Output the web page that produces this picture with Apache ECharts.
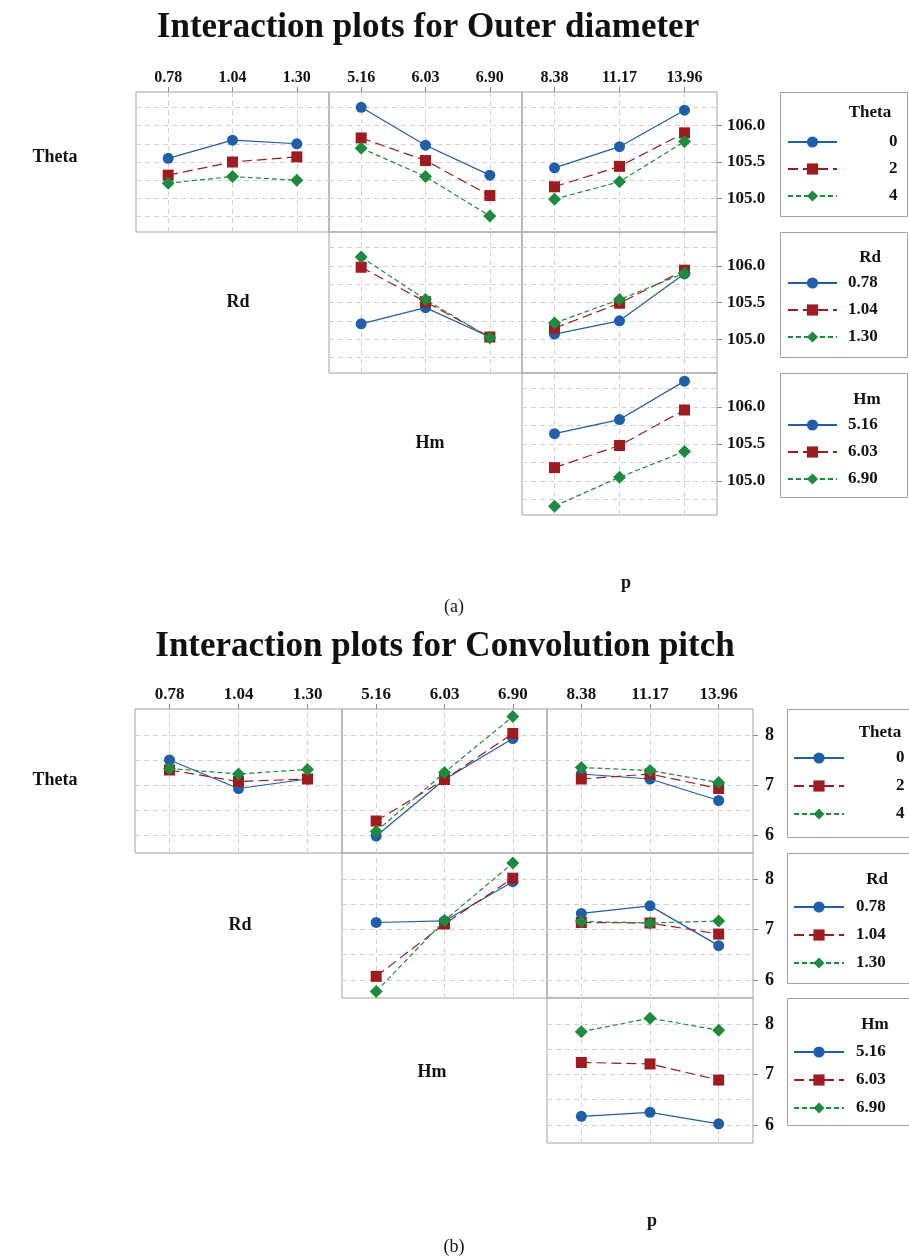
<!DOCTYPE html>
<html><head><meta charset="utf-8">
<script src="https://cdn.jsdelivr.net/npm/echarts@6/dist/echarts.min.js"></script>
<style>html,body{margin:0;padding:0;background:#fff}#c{width:909px;height:1259px}</style>
</head><body><div id="c"></div><script>
// ---- factor levels (tick labels) ----
const thetaLevels = ['0', '2', '4'];
const rdLevels = ['0.78', '1.04', '1.30'];
const hmLevels = ['5.16', '6.03', '6.90'];
const pLevels = ['8.38', '11.17', '13.96'];

// ---- (a) Outer diameter : means (rows = series level, cols = x level) ----
const odThetaVsRd = [[105.55, 105.80, 105.75], [105.32, 105.50, 105.57], [105.21, 105.30, 105.25]];
const odThetaVsHm = [[106.25, 105.73, 105.32], [105.83, 105.52, 105.04], [105.69, 105.30, 104.76]];
const odThetaVsP  = [[105.42, 105.71, 106.21], [105.16, 105.44, 105.90], [104.99, 105.23, 105.78]];
const odRdVsHm    = [[105.21, 105.43, 105.03], [105.98, 105.51, 105.03], [106.12, 105.54, 105.02]];
const odRdVsP     = [[105.07, 105.25, 105.89], [105.15, 105.49, 105.94], [105.22, 105.54, 105.90]];
const odHmVsP     = [[105.64, 105.83, 106.35], [105.18, 105.48, 105.96], [104.66, 105.05, 105.40]];
const odTicks = [105.0, 105.5, 106.0];
const odGridVals = [104.75, 105.0, 105.25, 105.5, 105.75, 106.0, 106.25];

// ---- (b) Convolution pitch ----
const cpThetaVsRd = [[7.50, 6.93, 7.12], [7.30, 7.07, 7.12], [7.33, 7.22, 7.31]];
const cpThetaVsHm = [[5.98, 7.11, 7.93], [6.28, 7.11, 8.03], [6.07, 7.25, 8.37]];
const cpThetaVsP  = [[7.22, 7.12, 6.69], [7.12, 7.22, 6.93], [7.35, 7.29, 7.05]];
const cpRdVsHm    = [[7.14, 7.17, 7.95], [6.07, 7.11, 8.02], [5.77, 7.18, 8.32]];
const cpRdVsP     = [[7.32, 7.47, 6.68], [7.14, 7.13, 6.91], [7.16, 7.13, 7.17]];
const cpHmVsP     = [[6.17, 6.25, 6.02], [7.24, 7.21, 6.89], [7.85, 8.12, 7.88]];
const cpTicks = [6, 7, 8];
const cpGridVals = [6, 6.5, 7, 7.5, 8];

// ---- styling ----
const SERIF = "'Liberation Serif','DejaVu Serif',serif";
const COLORS = ['#1f5ea8', '#9e1b1f', '#1e8a3e'];
const SYMBOLS = ['circle', 'rect', 'diamond'];
const SYMSIZE = [11, 11, 13];
const DASHES = ['solid', [10, 5], [5, 3]];

const charts = [
  { cols: [[136, 329], [329, 522], [522, 717]], rows: [[92, 232], [232, 373], [373, 515]],
    yMin: 104.54, yMax: 106.46, ticks: odTicks, gridVals: odGridVals, fmt: v => v.toFixed(1),
    xFont: 16, yFont: 17, yMargin: 10,
    panels: [
      { r: 0, c: 0, x: rdLevels, g: thetaLevels, v: odThetaVsRd },
      { r: 0, c: 1, x: hmLevels, g: thetaLevels, v: odThetaVsHm },
      { r: 0, c: 2, x: pLevels, g: thetaLevels, v: odThetaVsP },
      { r: 1, c: 1, x: hmLevels, g: rdLevels, v: odRdVsHm },
      { r: 1, c: 2, x: pLevels, g: rdLevels, v: odRdVsP },
      { r: 2, c: 2, x: pLevels, g: hmLevels, v: odHmVsP }
    ] },
  { cols: [[135, 342], [342, 547], [547, 753]], rows: [[709, 853], [853, 998], [998, 1143]],
    yMin: 5.64, yMax: 8.52, ticks: cpTicks, gridVals: cpGridVals, fmt: v => String(v),
    xFont: 17, yFont: 18, yMargin: 12,
    panels: [
      { r: 0, c: 0, x: rdLevels, g: thetaLevels, v: cpThetaVsRd },
      { r: 0, c: 1, x: hmLevels, g: thetaLevels, v: cpThetaVsHm },
      { r: 0, c: 2, x: pLevels, g: thetaLevels, v: cpThetaVsP },
      { r: 1, c: 1, x: hmLevels, g: rdLevels, v: cpRdVsHm },
      { r: 1, c: 2, x: pLevels, g: rdLevels, v: cpRdVsP },
      { r: 2, c: 2, x: pLevels, g: hmLevels, v: cpHmVsP }
    ] }
];

const grid = [], xAxis = [], yAxis = [], series = [];
let k = 0;
charts.forEach(ch => {
  ch.panels.forEach(p => {
    const [x0, x1] = ch.cols[p.c], [y0, y1] = ch.rows[p.r];
    grid.push({ left: x0, top: y0, width: x1 - x0, height: y1 - y0, show: true,
      borderColor: '#a3a3a3', borderWidth: 1, backgroundColor: 'transparent' });
    xAxis.push({ gridIndex: k, type: 'category', data: p.x, boundaryGap: true, position: 'top',
      axisLine: { show: false },
      axisTick: { show: p.r === 0, alignWithLabel: true, length: 5, lineStyle: { color: '#8a8a8a' } },
      axisLabel: { show: p.r === 0, margin: 6, fontFamily: SERIF, fontWeight: 'bold', fontSize: ch.xFont, color: '#111' },
      splitLine: { show: false } });
    yAxis.push({ gridIndex: k, type: 'value', min: ch.yMin, max: ch.yMax, position: 'right',
      axisLine: { show: false },
      axisTick: { show: p.c === 2, length: 5, customValues: ch.ticks, lineStyle: { color: '#8a8a8a' } },
      axisLabel: { show: p.c === 2, customValues: ch.ticks, formatter: ch.fmt, margin: ch.yMargin,
        fontFamily: SERIF, fontWeight: 'bold', fontSize: ch.yFont, color: '#111' },
      splitLine: { show: false } });
    series.push({ type: 'line', xAxisIndex: k, yAxisIndex: k, data: [], silent: true, z: 1, zlevel: 0,
      markLine: { silent: true, z: 1, symbol: ['none', 'none'], animation: false, label: { show: false },
        emphasis: { disabled: true },
        lineStyle: { color: '#d2d2d2', type: [5, 4], width: 1 },
        data: [...p.x.map(c => ({ xAxis: c })), ...ch.gridVals.map(v => ({ yAxis: v }))] } });
    p.g.forEach((name, gi) => {
      series.push({ type: 'line', name: name, xAxisIndex: k, yAxisIndex: k, data: p.v[gi],
        symbol: SYMBOLS[gi], symbolSize: SYMSIZE[gi], z: 3 + gi,
        itemStyle: { color: COLORS[gi] },
        lineStyle: { color: COLORS[gi], width: 1.2, type: DASHES[gi] },
        emphasis: { disabled: true } });
    });
    k++;
  });
});

function legendCfg(data, left, top, itemWidth, gap, padLeft) {
  return { data: data, orient: 'vertical', left: left, top: top, itemWidth: itemWidth, itemHeight: 14,
    itemGap: gap, selectedMode: false, padding: 0,
    textStyle: { fontFamily: SERIF, fontWeight: 'bold', fontSize: 17, color: '#111', lineHeight: 20,
      padding: [0, 0, 0, padLeft] } };
}
const legend = [
  legendCfg(thetaLevels, 787, 132, 49, 7, 47),
  legendCfg(rdLevels, 787, 273, 49, 7, 6),
  legendCfg(hmLevels, 787, 415, 49, 7, 6),
  legendCfg(thetaLevels, 793, 748, 50, 8, 47),
  legendCfg(rdLevels, 793, 897, 50, 8, 7),
  legendCfg(hmLevels, 793, 1042, 50, 8, 7)
];

function txt(t, x, y, size, weight, align) {
  return { type: 'text', x: x, y: y, silent: true,
    style: { text: t, textAlign: align || 'center', textVerticalAlign: 'middle',
      font: (weight || 'bold') + ' ' + size + 'px ' + SERIF, fill: '#111' } };
}
function box(x, y, w, h) {
  return { type: 'rect', shape: { x: x, y: y, width: w, height: h }, silent: true,
    style: { fill: 'none', stroke: '#a3a3a3', lineWidth: 1 } };
}
const graphic = [
  txt('Interaction plots for Outer diameter', 428, 28, 35),
  txt('Interaction plots for Convolution pitch', 445, 647, 35),
  txt('Theta', 55, 157, 18), txt('Rd', 238, 302, 18), txt('Hm', 430, 443, 18),
  txt('p', 626, 583, 18), txt('(a)', 454, 607, 18, 'normal'),
  txt('Theta', 55, 780, 18), txt('Rd', 240, 925, 18), txt('Hm', 432, 1072, 18),
  txt('p', 652, 1221, 18), txt('(b)', 454, 1247, 18, 'normal'),
  box(780.5, 92.5, 127, 124), box(780.5, 232.5, 127, 125), box(780.5, 373.5, 127, 124),
  box(787.5, 709.5, 125, 128), box(787.5, 853.5, 125, 130), box(787.5, 998.5, 125, 127),
  txt('Theta', 870, 113, 17), txt('Rd', 870, 258, 17), txt('Hm', 867, 400, 17),
  txt('Theta', 880, 733, 17), txt('Rd', 877, 880, 17), txt('Hm', 875, 1025, 17)
];

const chart = echarts.init(document.getElementById('c'), null, { renderer: 'canvas' });
chart.setOption({ animation: false, backgroundColor: '#fff', grid, xAxis, yAxis, series, legend, graphic });
</script></body></html>
